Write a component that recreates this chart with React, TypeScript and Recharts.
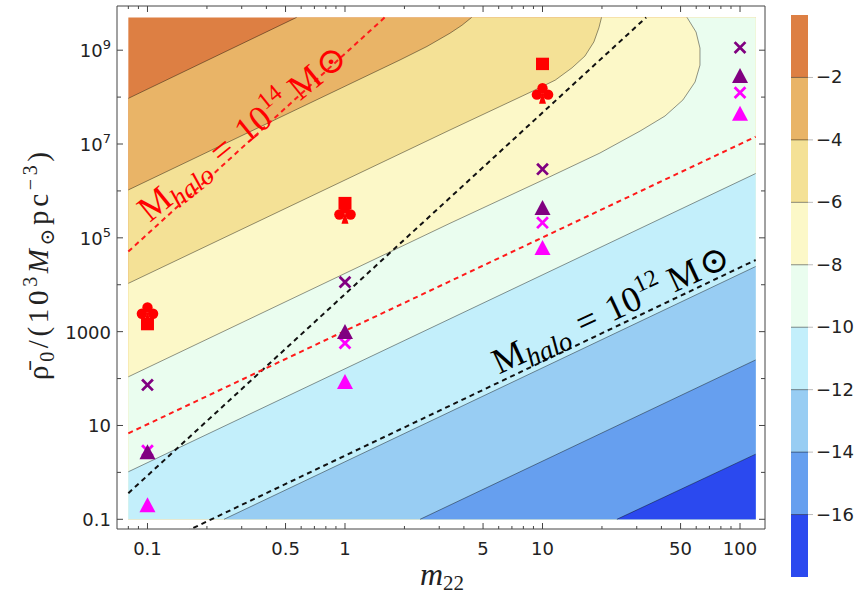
import React from "react";
import {
  ComposedChart,
  BarChart,
  Bar,
  Area,
  Line,
  Scatter,
  XAxis,
  YAxis,
  ReferenceLine,
  ReferenceDot,
} from "recharts";

// contour levels and band colours, highest band first
const levels = [-2, -4, -6, -8, -10, -12, -14, -16];
const bandColors = ["#DD7F43", "#E9B467", "#F4E196", "#FCF8C8", "#EAFDEF", "#C3EFFB", "#98CDF3", "#669FEF", "#2B49EF"];
const colorbarRange = [-18, 0];

// sampled region of the field, and the padded frame around it
const fieldX = [0.08, 120];
const fieldY = [0.1, 5e9];
const frameX = [0.0701, 133.8];
const frameY = [0.0621, 8.75e9];

// contour lines, lower left to where they leave the field
const contourM2 = [
  { x: 0.08, y: 9.4e7 },
  { x: 0.569, y: 5e9 },
];
const contourM4 = [
  { x: 0.08, y: 1.05e6 },
  { x: 1.9, y: 6.2e8 },
  { x: 2.6, y: 1.2e9 },
  { x: 3.4, y: 2.3e9 },
  { x: 3.91, y: 3.4e9 },
  { x: 4.38, y: 5e9 },
];
const contourM6 = [
  { x: 0.08, y: 1.07e4 },
  { x: 3.4, y: 1.99e7 },
  { x: 6.09, y: 6.3e7 },
  { x: 8.95, y: 1.35e8 },
  { x: 11.6, y: 2.3e8 },
  { x: 14.1, y: 4.2e8 },
  { x: 16.4, y: 7.5e8 },
  { x: 18.2, y: 1.5e9 },
  { x: 19.3, y: 3.0e9 },
  { x: 19.9, y: 5e9 },
];
const contourM8 = [
  { x: 0.08, y: 109 },
  { x: 3.4, y: 2.04e5 },
  { x: 10.06, y: 1.71e6 },
  { x: 19.5, y: 6.4e6 },
  { x: 31.2, y: 1.89e7 },
  { x: 41.7, y: 3.95e7 },
  { x: 51.4, y: 8.7e7 },
  { x: 59.2, y: 2.1e8 },
  { x: 62.7, y: 4.8e8 },
  { x: 62.7, y: 1.11e9 },
  { x: 59.9, y: 2.44e9 },
  { x: 53.9, y: 5e9 },
];
const contourM10 = [
  { x: 0.08, y: 1.03 },
  { x: 120, y: 2.35e6 },
];
const contourM12 = [
  { x: 0.244, y: 0.1 },
  { x: 120, y: 2.45e4 },
];
const contourM14 = [
  { x: 2.4, y: 0.1 },
  { x: 120, y: 250 },
];
const contourM16 = [
  { x: 23.8, y: 0.1 },
  { x: 120, y: 2.45 },
];
const contours = [contourM2, contourM4, contourM6, contourM8, contourM10, contourM12, contourM14, contourM16];

// halo-mass lines
const halo14Red = [
  { x: 0.08, y: 5.1e4 },
  { x: 1.59, y: 5e9 },
];
const halo14Black = [
  { x: 0.08, y: 0.36 },
  { x: 33.5, y: 5e9 },
];
const halo12Red = [
  { x: 0.08, y: 6.8 },
  { x: 120, y: 1.43e7 },
];
const halo12Black = [
  { x: 0.08, y: 0.0143 },
  { x: 120, y: 3.37e4 },
];

// points
const redSquares = [
  { x: 0.1, y: 1450 },
  { x: 1, y: 5.5e5 },
  { x: 10, y: 5.1e8 },
];
const redClubs = [
  { x: 0.1, y: 2600 },
  { x: 1, y: 3.4e5 },
  { x: 10, y: 1.22e8 },
];
const purpleCrosses = [
  { x: 0.1, y: 73 },
  { x: 1, y: 1.14e4 },
  { x: 10, y: 2.9e6 },
  { x: 100, y: 1.14e9 },
];
const magentaCrosses = [
  { x: 0.1, y: 2.9 },
  { x: 1, y: 570 },
  { x: 10, y: 2.1e5 },
  { x: 100, y: 1.25e8 },
];
const purpleTriangles = [
  { x: 0.1, y: 2.7 },
  { x: 1, y: 980 },
  { x: 10, y: 4.3e5 },
  { x: 100, y: 2.8e8 },
];
const magentaTriangles = [
  { x: 0.1, y: 0.2 },
  { x: 1, y: 84 },
  { x: 10, y: 6.1e4 },
  { x: 100, y: 4.4e7 },
];

// ticks
const xMajor = [0.1, 0.5, 1, 5, 10, 50, 100];
const xMinor = [0.08, 0.09, 0.2, 0.3, 0.4, 0.6, 0.7, 0.8, 0.9, 2, 3, 4, 6, 7, 8, 9, 20, 30, 40, 60, 70, 80, 90];
const yTicks = [0.1, 1, 10, 100, 1e3, 1e4, 1e5, 1e6, 1e7, 1e8, 1e9];
const yLabelled = [0.1, 10, 1e3, 1e5, 1e7, 1e9];

const xTicks = [...xMajor, ...xMinor].sort((a, b) => a - b);
const FRAME = "#444";
const TICK_FONT = "'DejaVu Sans', sans-serif";
const MATH_FONT = "'Liberation Serif', 'DejaVu Serif', serif";

const fillData = (c: { x: number; y: number }[]) =>
  c[c.length - 1].y >= fieldY[1] ? [...c, { x: fieldX[1], y: fieldY[1] }] : c;
const background = [
  { x: fieldX[0], y: fieldY[1] },
  { x: fieldX[1], y: fieldY[1] },
];

// one stacked column for the colour bar: each band spans the gap between levels
const bandTops = [colorbarRange[1], ...levels];
const bandBottoms = [...levels, colorbarRange[0]];
const colorbarRow: Record<string, number | string> = { name: "bar" };
bandColors.forEach((_, i) => {
  colorbarRow[`b${i}`] = bandBottoms[i] - bandTops[i];
});

function YTickText({ x, y, v }: any) {
  if (v >= 1e5) {
    return (
      <text x={x} y={y + 7} textAnchor="end" fontFamily={TICK_FONT} fontSize={18} fill="#222">
        10<tspan dy={-8} fontSize={13}>{Math.round(Math.log10(v))}</tspan>
      </text>
    );
  }
  return (
    <text x={x} y={y + 7} textAnchor="end" fontFamily={TICK_FONT} fontSize={18} fill="#222">
      {String(v)}
    </text>
  );
}

function BottomTick(props: any) {
  const { x, y, payload } = props;
  const major = xMajor.includes(payload.value);
  return (
    <g>
      <line x1={x} x2={x} y1={y} y2={y - (major ? 6 : 3)} stroke={FRAME} />
      {major && (
        <text x={x} y={y + 26} textAnchor="middle" fontFamily={TICK_FONT} fontSize={18} fill="#222">
          {String(payload.value)}
        </text>
      )}
    </g>
  );
}

function TopTick(props: any) {
  const { x, y, payload } = props;
  const major = xMajor.includes(payload.value);
  return <line x1={x} x2={x} y1={y} y2={y + (major ? 6 : 3)} stroke={FRAME} />;
}

function LeftTick(props: any) {
  const { x, y, payload } = props;
  const labelled = yLabelled.includes(payload.value);
  return (
    <g>
      <line x1={x} x2={x + (labelled ? 6 : 4)} y1={y} y2={y} stroke={FRAME} />
      {labelled && <YTickText x={x - 6} y={y} v={payload.value} />}
    </g>
  );
}

function RightTick(props: any) {
  const { x, y, payload } = props;
  const labelled = yLabelled.includes(payload.value);
  return <line x1={x} x2={x - (labelled ? 6 : 4)} y1={y} y2={y} stroke={FRAME} />;
}

function ColorbarTick(props: any) {
  const { x, y, payload } = props;
  return (
    <g>
      <line x1={x} x2={x + 5} y1={y} y2={y} stroke="#bbb" />
      <text x={x + 8} y={y + 6} fontFamily={TICK_FONT} fontSize={18} fill="#222">
        {"\u2212" + Math.abs(payload.value)}
      </text>
    </g>
  );
}

const crossShape = (color: string) => (p: any) => {
  const { cx, cy } = p;
  const s = 5.4;
  return (
    <path
      d={`M${cx - s},${cy - s}L${cx + s},${cy + s}M${cx + s},${cy - s}L${cx - s},${cy + s}`}
      stroke={color}
      strokeWidth={2.8}
      fill="none"
    />
  );
};

const triangleShape = (color: string) => (p: any) => {
  const { cx, cy } = p;
  return <path d={`M${cx},${cy - 8}L${cx + 8},${cy + 7}L${cx - 8},${cy + 7}Z`} fill={color} />;
};

const squareShape = (p: any) => {
  const { cx, cy } = p;
  return <rect x={cx - 6.5} y={cy - 6.2} width={13} height={12.4} fill="#FF0000" />;
};

const clubShape = (p: any) => {
  const { cx, cy } = p;
  return (
    <g fill="#FF0000">
      <circle cx={cx} cy={cy - 4.8} r={5.2} />
      <circle cx={cx - 5.6} cy={cy + 1.6} r={5.2} />
      <circle cx={cx + 5.6} cy={cy + 1.6} r={5.2} />
      <path d={`M${cx},${cy - 1}L${cx + 3.5},${cy + 10.8}L${cx - 3.5},${cy + 10.8}Z`} />
    </g>
  );
};

function HaloLabel({ cx, cy, power, color, angle }: any) {
  return (
    <text
      x={cx}
      y={cy}
      transform={`rotate(${angle} ${cx} ${cy})`}
      textAnchor="middle"
      fill={color}
      fontFamily={MATH_FONT}
      fontSize={36}
    >
      M
      <tspan fontStyle="italic" fontSize={27} dy={7}>
        halo
      </tspan>
      <tspan dy={-7} dx={12}>
        =
      </tspan>
      <tspan dx={12}>10</tspan>
      <tspan fontSize={24} dy={-15}>
        {power}
      </tspan>
      <tspan dy={15} dx={9}>
        M
      </tspan>
      <tspan dx={2}>⊙</tspan>
    </text>
  );
}

export default function App() {
  return (
    <div style={{ position: "absolute", left: 0, top: 0, width: 868, height: 602, background: "#fff" }}>
      <div style={{ position: "absolute", left: 0, top: 0 }}>
        <ComposedChart width={868} height={602} margin={{ top: 0, right: 0, bottom: 0, left: 0 }}>
          <XAxis
            type="number"
            dataKey="x"
            scale="log"
            domain={frameX}
            allowDataOverflow
            ticks={xTicks}
            interval={0}
            height={73}
            tickSize={0}
            tickMargin={0}
            tickLine={false}
            axisLine={{ stroke: FRAME }}
            tick={BottomTick}
          />
          <XAxis
            xAxisId="top"
            orientation="top"
            type="number"
            dataKey="x"
            scale="log"
            domain={frameX}
            allowDataOverflow
            ticks={xTicks}
            interval={0}
            height={6}
            tickSize={0}
            tickMargin={0}
            tickLine={false}
            axisLine={{ stroke: FRAME }}
            tick={TopTick}
          />
          <YAxis
            type="number"
            dataKey="y"
            scale="log"
            domain={frameY}
            allowDataOverflow
            ticks={yTicks}
            interval={0}
            width={117}
            tickSize={0}
            tickMargin={0}
            tickLine={false}
            axisLine={{ stroke: FRAME }}
            tick={LeftTick}
          />
          <YAxis
            yAxisId="right"
            orientation="right"
            type="number"
            dataKey="y"
            scale="log"
            domain={frameY}
            allowDataOverflow
            ticks={yTicks}
            interval={0}
            width={103}
            tickSize={0}
            tickMargin={0}
            tickLine={false}
            axisLine={{ stroke: FRAME }}
            tick={RightTick}
          />

          <Area
            data={background}
            dataKey="y"
            type="linear"
            baseValue={fieldY[0]}
            fill={bandColors[0]}
            fillOpacity={1}
            stroke="none"
            dot={false}
            activeDot={false}
            isAnimationActive={false}
          />
          {contours.map((c, i) => (
            <Area
              key={`fill${i}`}
              data={fillData(c)}
              dataKey="y"
              type="linear"
              baseValue={fieldY[0]}
              fill={bandColors[i + 1]}
              fillOpacity={1}
              stroke="none"
              dot={false}
              activeDot={false}
              isAnimationActive={false}
            />
          ))}
          {contours.map((c, i) => (
            <Line
              key={`line${i}`}
              data={c}
              dataKey="y"
              type="linear"
              stroke="#000"
              strokeOpacity={0.42}
              strokeWidth={1}
              dot={false}
              activeDot={false}
              isAnimationActive={false}
            />
          ))}

          <Line data={halo14Red} dataKey="y" type="linear" stroke="#FF1A1A" strokeWidth={2} strokeDasharray="5 4" dot={false} activeDot={false} isAnimationActive={false} />
          <Line data={halo14Black} dataKey="y" type="linear" stroke="#111" strokeWidth={2} strokeDasharray="5 4" dot={false} activeDot={false} isAnimationActive={false} />
          <Line data={halo12Red} dataKey="y" type="linear" stroke="#FF1A1A" strokeWidth={2} strokeDasharray="5 4" dot={false} activeDot={false} isAnimationActive={false} />
          <Line data={halo12Black} dataKey="y" type="linear" stroke="#111" strokeWidth={2} strokeDasharray="5 4" dot={false} activeDot={false} isAnimationActive={false} />

          <Scatter data={redSquares} shape={squareShape} isAnimationActive={false} />
          <Scatter data={redClubs} shape={clubShape} isAnimationActive={false} />
          <Scatter data={purpleCrosses} shape={crossShape("#800080")} isAnimationActive={false} />
          <Scatter data={magentaCrosses} shape={crossShape("#FF00FF")} isAnimationActive={false} />
          <Scatter data={purpleTriangles} shape={triangleShape("#800080")} isAnimationActive={false} />
          <Scatter data={magentaTriangles} shape={triangleShape("#FF00FF")} isAnimationActive={false} />

          <ReferenceDot
            x={0.33}
            y={1.1e7}
            r={0}
            ifOverflow="visible"
            shape={(p: any) => <HaloLabel cx={p.cx} cy={p.cy} power="14" color="#FF0000" angle={-39} />}
          />
          <ReferenceDot
            x={23.5}
            y={1770}
            r={0}
            ifOverflow="visible"
            shape={(p: any) => <HaloLabel cx={p.cx} cy={p.cy} power="12" color="#000" angle={-25} />}
          />
        </ComposedChart>
      </div>

      <div style={{ position: "absolute", left: 760, top: 0 }}>
        <BarChart
          width={108}
          height={602}
          data={[colorbarRow]}
          margin={{ top: 15, right: 0, bottom: 25, left: 31 }}
          barCategoryGap={0}
        >
          <XAxis dataKey="name" type="category" hide />
          <YAxis
            orientation="right"
            type="number"
            domain={colorbarRange}
            allowDataOverflow
            ticks={levels}
            interval={0}
            width={60}
            tickSize={0}
            tickMargin={0}
            tickLine={false}
            axisLine={false}
            tick={ColorbarTick}
          />
          {bandColors.map((c, i) => (
            <Bar key={`band${i}`} dataKey={`b${i}`} stackId="cb" fill={c} isAnimationActive={false} />
          ))}
          {levels.map((l) => (
            <ReferenceLine key={`lv${l}`} y={l} stroke="#000" strokeOpacity={0.45} />
          ))}
        </BarChart>
      </div>

      <svg width={868} height={602} style={{ position: "absolute", left: 0, top: 0, pointerEvents: "none" }}>
        <text x={442} y={585} textAnchor="middle" fontFamily={MATH_FONT} fontSize={32} fill="#222">
          <tspan fontStyle="italic">m</tspan>
          <tspan fontSize={21} dy={5}>
            22
          </tspan>
        </text>
        <text
          x={48}
          y={266}
          transform="rotate(-90 48 266)"
          textAnchor="middle"
          fontFamily={MATH_FONT}
          fontSize={29}
          fill="#222"
          textLength={228}
          lengthAdjust="spacing"
        >
          {"\u03C1\u0304"}
          <tspan fontSize={20} dy={6}>
            0
          </tspan>
          <tspan dy={-6}>/(10</tspan>
          <tspan fontSize={20} dy={-11}>
            3
          </tspan>
          <tspan dy={11} fontStyle="italic">
            M
          </tspan>
          <tspan fontSize={20} dy={6}>
            ⊙
          </tspan>
          <tspan dy={-6}>pc</tspan>
          <tspan fontSize={20} dy={-11}>
            {"\u22123"}
          </tspan>
          <tspan dy={11}>)</tspan>
        </text>
      </svg>
    </div>
  );
}
